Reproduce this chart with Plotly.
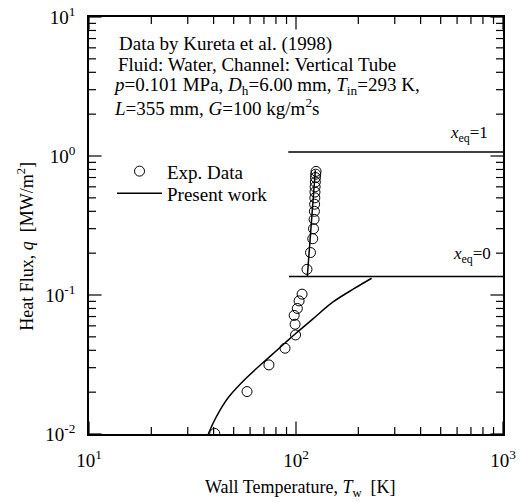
import plotly.graph_objects as go

# Experimental data (Kureta et al. 1998)
exp_T = [40.5, 58, 74, 88.5, 99.5, 99, 98, 101.5, 103.5, 107,
         113, 117.5, 120.5, 121.5, 122.3, 122.7, 123, 123.3, 123.5, 123.7, 124, 124.2, 124.5, 125]
exp_q = [0.0101, 0.0202, 0.0314, 0.0414, 0.0516, 0.0616, 0.0713, 0.080, 0.0907, 0.1014,
         0.153, 0.202, 0.254, 0.30, 0.35, 0.40, 0.45, 0.50, 0.55, 0.60, 0.65, 0.70, 0.74, 0.775]

# Present work prediction (two branches)
pw_low_T = [37.7, 39.8, 42.9, 47.5, 57.7, 74, 88.5, 100, 120, 151, 190.5, 232]
pw_low_q = [0.0100, 0.0120, 0.0148, 0.0186, 0.0254, 0.0356, 0.0452, 0.0531, 0.0668, 0.0891, 0.111, 0.132]
pw_up_T = [113.4, 124]
pw_up_q = [0.1357, 0.79]

# Equilibrium quality lines
xeq1_T = [91.8, 1000]
xeq1_q = [1.067, 1.067]
xeq0_T = [92.5, 1000]
xeq0_q = [0.1357, 0.1357]

x_range = [10, 1000]
y_range = [0.01, 10]
x_major = [10, 100, 1000]
x_major_text = ["10<sup>1</sup>", "10<sup>2</sup>", "10<sup>3</sup>"]
y_major = [0.01, 0.1, 1, 10]
y_major_text = ["10<sup>-2</sup>", "10<sup>-1</sup>", "10<sup>0</sup>", "10<sup>1</sup>"]
x_minor = [20, 30, 40, 50, 60, 70, 80, 90, 200, 300, 400, 500, 600, 700, 800, 900]
y_minor = [0.02, 0.03, 0.04, 0.05, 0.06, 0.07, 0.08, 0.09,
           0.2, 0.3, 0.4, 0.5, 0.6, 0.7, 0.8, 0.9,
           2, 3, 4, 5, 6, 7, 8, 9]

FONT = "Liberation Serif"
MAJOR_LEN, MINOR_LEN = 9, 5

fig = go.Figure()
fig.add_trace(go.Scatter(x=exp_T, y=exp_q, mode="markers", name="Exp. Data",
                         marker=dict(symbol="circle-open", size=10, color="black",
                                     line=dict(width=1, color="black")),
                         legend="legend"))
fig.add_trace(go.Scatter(x=pw_low_T + [None] + pw_up_T, y=pw_low_q + [None] + pw_up_q,
                         mode="lines", name="Present work",
                         line=dict(color="black", width=1.5, shape="spline", smoothing=1.0),
                         connectgaps=False, legend="legend2"))
fig.add_trace(go.Scatter(x=xeq1_T, y=xeq1_q, mode="lines", showlegend=False,
                         line=dict(color="black", width=1.5)))
fig.add_trace(go.Scatter(x=xeq0_T, y=xeq0_q, mode="lines", showlegend=False,
                         line=dict(color="black", width=1.5)))

# Inside tick marks on all four sides: markers centred on the frame, clipped to the plot area
for vals, ln in ((x_major, MAJOR_LEN), (x_minor, MINOR_LEN)):
    for edge in y_range:
        fig.add_trace(go.Scatter(x=vals, y=[edge] * len(vals), mode="markers",
                                 showlegend=False, hoverinfo="skip", cliponaxis=True,
                                 marker=dict(symbol="line-ns", size=2 * ln, color="black",
                                             line=dict(width=1.2, color="black"))))
for vals, ln in ((y_major, MAJOR_LEN), (y_minor, MINOR_LEN)):
    for edge in x_range:
        fig.add_trace(go.Scatter(x=[edge] * len(vals), y=vals, mode="markers",
                                 showlegend=False, hoverinfo="skip", cliponaxis=True,
                                 marker=dict(symbol="line-ew", size=2 * ln, color="black",
                                             line=dict(width=1.2, color="black"))))

fig.update_xaxes(type="log", range=[1, 3], showgrid=False, zeroline=False, showline=True,
                 linecolor="black", linewidth=1.5, mirror=True, ticks="",
                 tickmode="array", tickvals=x_major, ticktext=x_major_text,
                 tickfont=dict(family=FONT, size=19, color="black"),
                 ticklabelstandoff=8)
fig.update_yaxes(type="log", range=[-2, 1], showgrid=False, zeroline=False, showline=True,
                 linecolor="black", linewidth=1.5, mirror=True, ticks="",
                 tickmode="array", tickvals=y_major, ticktext=y_major_text,
                 tickfont=dict(family=FONT, size=19, color="black"),
                 ticklabelstandoff=8)

fig.add_annotation(x=0.512, y=-0.1295, xref="paper", yref="paper",
                   text="Wall Temperature, <i>T</i><sub>w</sub>  [K]",
                   showarrow=False, xanchor="center", yanchor="middle",
                   font=dict(family=FONT, size=18, color="black"))
fig.add_annotation(x=-0.152, y=0.449, xref="paper", yref="paper",
                   text="Heat Flux, <i>q</i>  [MW/m<sup>2</sup>]", textangle=-90,
                   showarrow=False, xanchor="center", yanchor="middle",
                   font=dict(family=FONT, size=18, color="black"))

ann_font = dict(family=FONT, size=19, color="black")
texts = [
    (0.068, 0.936, "Data by Kureta et al. (1998)"),
    (0.065, 0.886, "Fluid: Water, Channel: Vertical Tube"),
    (0.053, 0.835, "<i>p</i>=0.101 MPa, <i>D</i><sub>h</sub>=6.00 mm, <i>T</i><sub>in</sub>=293 K,"),
    (0.056, 0.783, "<i>L</i>=355 mm, <i>G</i>=100 kg/m<sup>2</sup>s"),
]
for x, y, t in texts:
    fig.add_annotation(x=x, y=y, xref="paper", yref="paper", text=t, showarrow=False,
                       xanchor="left", yanchor="middle", font=ann_font)
fig.add_annotation(x=0.969, y=0.720, xref="paper", yref="paper",
                   text="<i>x</i><sub>eq</sub>=1", showarrow=False,
                   xanchor="right", yanchor="middle", font=dict(family=FONT, size=17, color="black"))
fig.add_annotation(x=0.976, y=0.430, xref="paper", yref="paper",
                   text="<i>x</i><sub>eq</sub>=0", showarrow=False,
                   xanchor="right", yanchor="middle", font=dict(family=FONT, size=17, color="black"))

leg_common = dict(xanchor="left", yanchor="middle", bgcolor="rgba(0,0,0,0)",
                  font=dict(family=FONT, size=19, color="black"), itemwidth=45)
fig.update_layout(
    width=526, height=502,
    margin=dict(l=89, r=23, t=17, b=68, autoexpand=False),
    paper_bgcolor="white", plot_bgcolor="white",
    showlegend=True,
    legend=dict(x=0.0556, y=0.630, **leg_common),
    legend2=dict(x=0.0556, y=0.577, **leg_common),
)

fig.write_html("out.html")
